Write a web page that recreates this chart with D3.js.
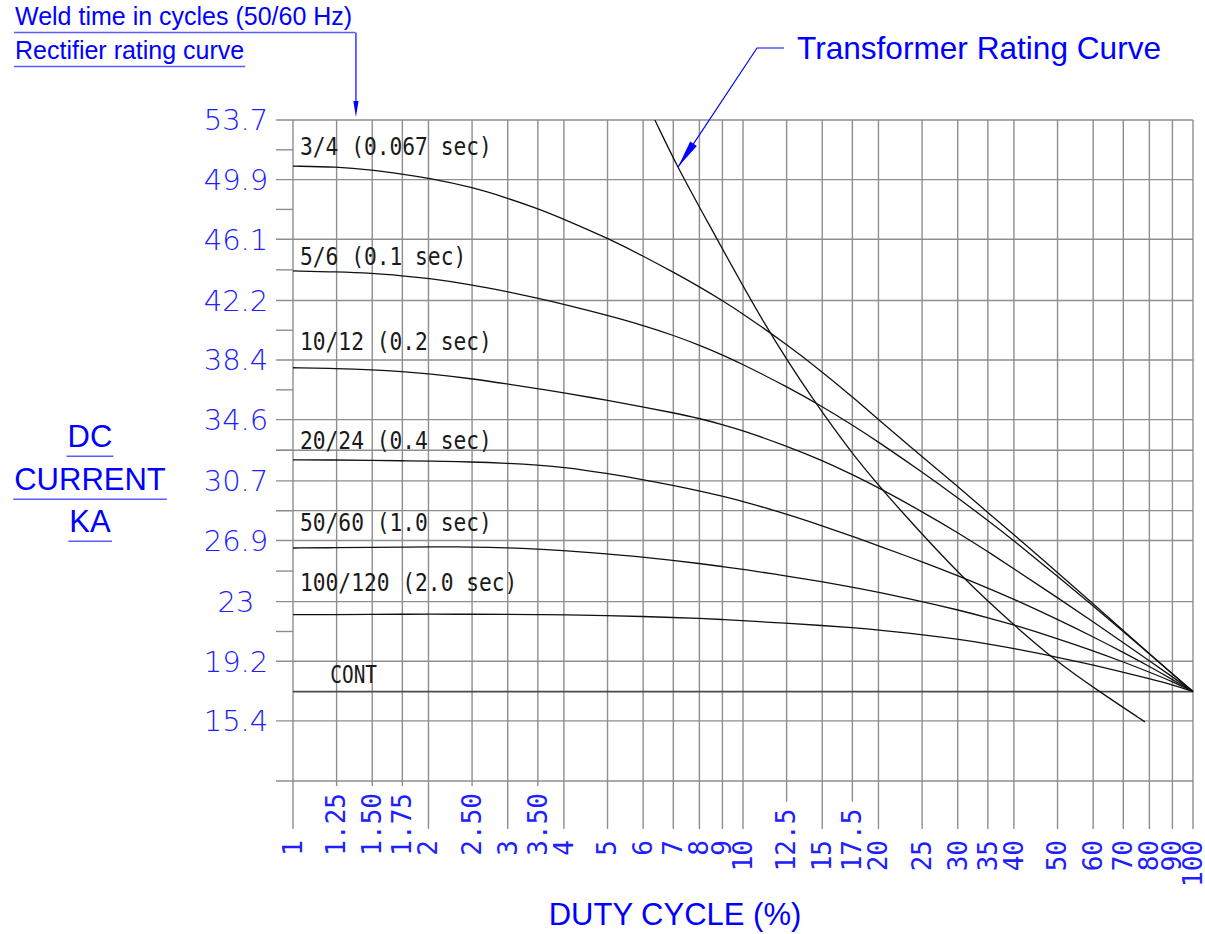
<!DOCTYPE html>
<html><head><meta charset="utf-8">
<script src="https://cdn.jsdelivr.net/npm/d3@7"></script>
<style>html,body{margin:0;padding:0;background:#fff;} svg{display:block}</style>
</head><body><svg id="chart" width="1205" height="934"></svg>
<script>
// ---------------- data ----------------
const dutyCycle = [1,1.25,1.5,1.75,2,2.5,3,3.5,4,5,6,7,8,9,10,12.5,15,17.5,20,25,30,35,40,50,60,70,80,90,100];
const xTickLabels = ["1","1.25","1.50","1.75","2","2.50","3","3.50","4","5","6","7","8","9","10","12.5","15","17.5","20","25","30","35","40","50","60","70","80","90","100"];
const yTickLabels = ["53.7","49.9","46.1","42.2","38.4","34.6","30.7","26.9","23","19.2","15.4"];
const yMinorTicks = [51.8,48.0,44.15,40.3,36.5,32.65,28.8,24.95,21.1];
const yExtraGrid = [32.65,28.8];
const yBottom = 11.57;
const contKA = 17.27;

const seriesNames = ["3/4 (0.067 sec)","5/6 (0.1 sec)","10/12 (0.2 sec)","20/24 (0.4 sec)","50/60 (1.0 sec)","100/120 (2.0 sec)"];
const kA_3_4   = [50.76,50.72,50.51,50.25,50.00,49.42,48.72,48.05,47.38,46.17,45.03,44.00,43.07,42.19,41.35,39.40,37.65,36.06,34.60,32.25,30.34,28.68,27.27,24.85,22.87,21.15,19.68,18.40,17.27];
const kA_5_6   = [44.08,44.02,43.93,43.77,43.61,43.20,42.75,42.34,41.95,41.25,40.61,39.98,39.35,38.73,38.12,36.71,35.44,34.26,33.18,31.26,29.62,28.18,26.88,24.62,22.73,21.10,19.67,18.39,17.27];
const kA_10_12 = [37.91,37.86,37.78,37.67,37.54,37.21,36.87,36.57,36.31,35.83,35.41,35.04,34.68,34.29,33.91,32.92,32.00,31.10,30.27,28.74,27.40,26.19,25.10,23.25,21.72,20.38,19.23,18.21,17.27];
const kA_20_24 = [32.04,32.03,32.01,31.98,31.96,31.91,31.82,31.71,31.57,31.17,30.78,30.41,30.06,29.72,29.39,28.59,27.84,27.17,26.57,25.54,24.66,23.87,23.16,21.87,20.76,19.77,18.87,18.04,17.27];
const kA_50_60 = [26.42,26.44,26.46,26.48,26.49,26.49,26.44,26.35,26.25,26.05,25.83,25.63,25.43,25.24,25.06,24.64,24.27,23.92,23.60,23.01,22.48,21.98,21.52,20.65,19.87,19.16,18.51,17.91,17.27];
const kA_100_120 = [22.17,22.18,22.19,22.20,22.20,22.20,22.19,22.18,22.17,22.10,22.06,21.99,21.93,21.87,21.78,21.63,21.48,21.34,21.20,20.90,20.61,20.31,20.02,19.46,18.96,18.50,18.09,17.70,17.27];
const seriesLabelKA = [51.47,44.44,39.02,32.76,27.53,23.70];

const transformerDuty = [6.37,7.17,8.03,11.3,14.45,17.56,22.34,31.14,40.63,48.86,61.5,78.2];
const transformerKA   = [53.7,50.64,48.08,40.3,35.7,32.32,28.81,24.34,21.34,19.36,17.32,15.34];

// ---------------- chart ----------------
const svg = d3.select('#chart');
const x = d3.scaleLog().domain([1,100]).range([293,1193]);
const y = d3.scaleLinear().domain([yBottom,53.7]).range([781,120]);
const gridColor = '#8e8e8e';
const blue = '#0000ff';
const tickBlue = '#2020ff';
const leftTick = 276;

// horizontal grid
const hGrid = yTickLabels.map(Number).concat(yExtraGrid,[yBottom]);
svg.append('g').selectAll('line').data(hGrid).join('line')
  .attr('x1',leftTick).attr('x2',x(100)).attr('y1',d=>y(d)).attr('y2',d=>y(d))
  .attr('stroke',gridColor).attr('stroke-width',1.4);
svg.append('g').selectAll('line').data(yMinorTicks).join('line')
  .attr('x1',leftTick).attr('x2',x(1)).attr('y1',d=>y(d)).attr('y2',d=>y(d))
  .attr('stroke',gridColor).attr('stroke-width',1.4);

// x tick labels (decimal aligned) + vertical grid
const labelBase = 840;
const gx = svg.append('g');
dutyCycle.forEach((v,i)=>{
  const s = xTickLabels[i];
  const dot = s.indexOf('.');
  const intPart = dot<0 ? s : s.slice(0,dot);
  const frac = dot<0 ? '' : s.slice(dot);
  const px = x(v);
  const common = t => t.attr('font-family','"DejaVu Sans Mono", monospace').attr('font-size',26)
      .attr('fill',tickBlue).attr('dy','0.34em');
  common(gx.append('text').attr('transform',`translate(${px},${labelBase}) rotate(-90)`)
      .attr('text-anchor','end').text(intPart));
  let tickEnd = 829;
  if (frac) {
    const ft = gx.append('text').attr('transform',`translate(${px},${labelBase}) rotate(-90)`)
      .attr('text-anchor','start').text(frac);
    common(ft);
    tickEnd = labelBase - ft.node().getComputedTextLength() - 7;
  }
  gx.append('line').attr('x1',px).attr('x2',px).attr('y1',y(53.7)).attr('y2',tickEnd)
    .attr('stroke',gridColor).attr('stroke-width',1.4);
});

// CONT line
svg.append('line').attr('x1',x(1)).attr('x2',x(100)).attr('y1',y(contKA)).attr('y2',y(contKA))
  .attr('stroke','#4a4a4a').attr('stroke-width',1.8);

// y tick labels
svg.append('g').selectAll('text').data(yTickLabels).join('text')
  .attr('x',236).attr('y',d=>y(+d)).attr('dy','0.36em').attr('text-anchor','middle')
  .attr('font-family','"DejaVu Sans", sans-serif').attr('font-size',29).attr('font-weight',200)
  .attr('fill',tickBlue).text(d=>d);

// rating curves
const seriesValues = [kA_3_4,kA_5_6,kA_10_12,kA_20_24,kA_50_60,kA_100_120];
const line = d3.line().x(d=>x(d[0])).y(d=>y(d[1])).curve(d3.curveBasis);
svg.append('g').selectAll('path').data(seriesValues).join('path')
  .attr('d',vals=>line(dutyCycle.map((dc,i)=>[dc,vals[i]])))
  .attr('fill','none').attr('stroke','#111').attr('stroke-width',1.3);

// transformer curve
const trPath = svg.append('path')
  .attr('d',line(transformerDuty.map((dc,i)=>[dc,transformerKA[i]])))
  .attr('fill','none').attr('stroke','#111').attr('stroke-width',1.3);

// curve labels
const lblFont = '"DejaVu Sans Mono", monospace';
seriesNames.forEach((nm,i)=>{
  svg.append('text').attr('transform',`translate(${x(1.0365)},${y(seriesLabelKA[i])}) scale(0.85,1)`)
    .attr('font-family',lblFont).attr('font-size',25).attr('fill','#1a1a1a').text(nm);
});
svg.append('text').attr('transform',`translate(${x(1.21)},${y(17.83)}) scale(0.81,1)`)
  .attr('font-family',lblFont).attr('font-size',24).attr('fill','#1a1a1a').text('CONT');

// ---------------- titles / annotations ----------------
const sans = '"Liberation Sans", Arial, sans-serif';
function underlined(txt, xx, yy, size, anchor, extraRight){
  const t = svg.append('text').attr('x',xx).attr('y',yy).attr('font-family',sans).attr('font-size',size)
    .attr('fill',blue).attr('text-anchor',anchor||'start').text(txt);
  const bb = t.node().getBBox();
  svg.append('line').attr('x1',bb.x-1).attr('x2',bb.x+bb.width+1+(extraRight||0))
    .attr('y1',yy+size*0.3).attr('y2',yy+size*0.3).attr('stroke','#5a5aff').attr('stroke-width',1.6);
  return t;
}
underlined('Weld time in cycles (50/60 Hz)',15,25,25,'start',2);
underlined('Rectifier rating curve',15,59,25,'start');

// weld arrow
const wx = x(1.38);
svg.append('line').attr('x1',wx).attr('x2',wx).attr('y1',32.5).attr('y2',y(53.7)-12).attr('stroke',blue).attr('stroke-width',1.2);
svg.append('path').attr('d',`M${wx-2.6},${y(53.7)-19} L${wx+2.6},${y(53.7)-19} L${wx},${y(53.7)-3} Z`).attr('fill',blue);

// y title
underlined('DC',90,447,31,'middle');
underlined('CURRENT',90,490,31,'middle');
underlined('KA',90,532,31,'middle');

// x title
svg.append('text').attr('x',675).attr('y',925).attr('text-anchor','middle').attr('font-family',sans)
  .attr('font-size',31).attr('fill',blue).text('DUTY CYCLE (%)');

// transformer label + leader arrow (tip placed on the transformer curve)
svg.append('text').attr('x',797).attr('y',59).attr('font-family',sans).attr('font-size',31.6)
  .attr('fill',blue).text('Transformer Rating Curve');
let tipX = x(transformerDuty[1]), tipY = y(transformerKA[1]);
{
  const node = trPath.node(), total = node.getTotalLength();
  let best = null;
  for (let l=0; l<=total; l+=0.5){
    const p = node.getPointAtLength(l);
    if (!best || Math.abs(p.x-tipX) < Math.abs(best.x-tipX)) best = p;
  }
  tipX = best.x; tipY = best.y;
}
const elbow = [757,48];
svg.append('polyline').attr('points',`784,48 ${elbow[0]},${elbow[1]} ${tipX},${tipY}`)
  .attr('fill','none').attr('stroke',blue).attr('stroke-width',1.2);
{
  const dx = elbow[0]-tipX, dy = elbow[1]-tipY, L = Math.hypot(dx,dy);
  const ux = dx/L, uy = dy/L, len = 28, hw = 4;
  const bx = tipX+ux*len, by = tipY+uy*len;
  svg.append('path').attr('d',`M${tipX},${tipY} L${bx-uy*hw},${by+ux*hw} L${bx+uy*hw},${by-ux*hw} Z`).attr('fill',blue);
}
</script></body></html>
